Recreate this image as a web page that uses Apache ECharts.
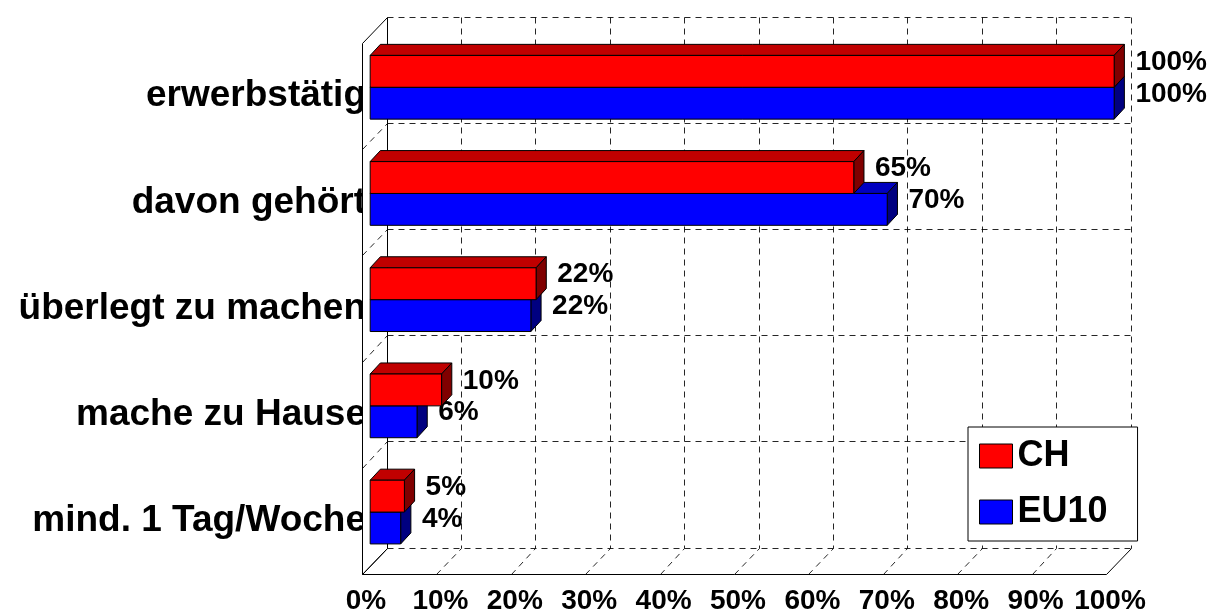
<!DOCTYPE html>
<html><head><meta charset="utf-8">
<script src="https://cdn.jsdelivr.net/npm/echarts/dist/echarts.min.js"></script>
<style>html,body{margin:0;padding:0;background:#fff}#c{width:1210px;height:615px}</style>
</head><body><div id="c"></div>
<script>
const categories = ['erwerbstätig', 'davon gehört', 'überlegt zu machen', 'mache zu Hause', 'mind. 1 Tag/Woche'];
const chValues = [100, 65, 22.3, 9.6, 4.6];
const eu10Values = [100, 69.5, 21.6, 6.3, 4.1];
const xTicks = [0, 10, 20, 30, 40, 50, 60, 70, 80, 90, 100];
const seriesNames = ['CH', 'EU10'];

const FONT = '"Liberation Sans", Arial, sans-serif';
const D = [24.5, -26.5];          // full 3D depth vector
const tF = 1 / 3, tB = 0.75;      // bar front / back depth fraction
const px = v => Math.round(v) + 0.5;

function line(x1, y1, x2, y2, dashed) {
  return { type: 'line', shape: { x1: px(x1), y1: px(y1), x2: px(x2), y2: px(y2) },
    style: { stroke: '#000', lineWidth: 1, lineDash: dashed ? [6, 5] : null, opacity: dashed ? 0.85 : 1 } };
}

function frameRender(params, api) {
  const band = api.size([0, 1])[1];
  const top = api.coord([0, 0])[1] - band / 2;
  const n = categories.length;
  const bottom = top + band * n;
  const xOf = v => api.coord([v, 0])[0];
  const x0 = xOf(xTicks[0]), x1 = xOf(xTicks[xTicks.length - 1]);
  const ch = [];
  // left wall white fill (covers overflowing category labels)
  ch.push({ type: 'polygon', shape: { points: [[x0, top], [x0 + D[0], top + D[1]], [x0 + D[0], bottom + D[1]], [x0, bottom]] },
    style: { fill: '#fff' } });
  // back wall verticals
  xTicks.forEach((v, i) => {
    const x = xOf(v) + D[0];
    ch.push(line(x, top + D[1], x, bottom + D[1], i !== 0));
  });
  // back wall horizontals + left wall diagonals
  for (let k = 0; k <= n; k++) {
    const y = top + band * k;
    ch.push(line(x0 + D[0], y + D[1], x1 + D[0], y + D[1], true));
    ch.push(line(x0, y, x0 + D[0], y + D[1], k !== 0 && k !== n));
  }
  // left wall front edge
  ch.push(line(x0, top, x0, bottom, false));
  // floor diagonals
  xTicks.forEach((v, i) => {
    const x = xOf(v);
    ch.push(line(x, bottom, x + D[0], bottom + D[1], i !== 0 && i !== xTicks.length - 1));
  });
  ch.push(line(x0, bottom, x1, bottom, false));
  return { type: 'group', children: ch };
}

function barRender(front, topC, sideC, upper) {
  return function (params, api) {
    const v = api.value(0), ci = api.value(1);
    const c = api.coord([v, ci]);
    const c0 = api.coord([0, ci]);
    const band = api.size([0, 1])[1];
    const h = band * 0.3;
    const fx = D[0] * tF, fy = D[1] * tF;
    const bx = D[0] * (tB - tF), by = D[1] * (tB - tF);
    const xa = c0[0] + fx, xb = c[0] + fx;
    const yc = c[1] + fy;
    const yt = upper ? yc - h : yc;
    const yb = yt + h;
    const st = { stroke: '#000', lineWidth: 1 };
    return { type: 'group', children: [
      { type: 'polygon', shape: { points: [[xa, yt], [xb, yt], [xb + bx, yt + by], [xa + bx, yt + by]] }, style: Object.assign({ fill: topC }, st) },
      { type: 'polygon', shape: { points: [[xb, yt], [xb + bx, yt + by], [xb + bx, yb + by], [xb, yb]] }, style: Object.assign({ fill: sideC }, st) },
      { type: 'rect', shape: { x: xa, y: yt, width: xb - xa, height: h }, style: Object.assign({ fill: front }, st) },
      { type: 'text', x: xb + bx + 11, y: (yt + yb) / 2 + by + 2,
        style: { text: Math.round(v) + '%', fill: '#000', font: 'bold 28px ' + FONT, align: 'left', verticalAlign: 'middle' } }
    ] };
  };
}

const chart = echarts.init(document.getElementById('c'), null, { renderer: 'canvas' });
chart.setOption({
  animation: false,
  backgroundColor: '#fff',
  grid: { left: 362, right: 104, top: 43, bottom: 40, containLabel: false },
  xAxis: {
    type: 'value', min: 0, max: 100, interval: 10,
    axisLine: { show: false }, axisTick: { show: false }, splitLine: { show: false },
    axisLabel: { formatter: '{value}%', fontSize: 28, fontWeight: 'bold', fontFamily: FONT, color: '#000', margin: 13, padding: [0, 0, 0, 8] }
  },
  yAxis: {
    type: 'category', data: categories, inverse: true,
    axisLine: { show: false }, axisTick: { show: false }, splitLine: { show: false },
    axisLabel: { interval: 0, fontSize: 37, fontWeight: 'bold', fontFamily: FONT, color: '#000', margin: -4, align: 'right' }
  },
  legend: {
    data: seriesNames, orient: 'vertical', left: 968, top: 427,
    padding: [11, 30, 11, 11], itemGap: 20, itemWidth: 33, itemHeight: 24, icon: 'rect',
    borderColor: '#000', borderWidth: 1, backgroundColor: '#fff', borderRadius: 0,
    itemStyle: { borderColor: '#000', borderWidth: 1 },
    textStyle: { fontSize: 36, fontWeight: 'bold', fontFamily: FONT, color: '#000' }
  },
  series: [
    { type: 'custom', name: 'frame', z: 1, silent: true, clip: false, renderItem: frameRender,
      data: [[0, 0]], encode: { x: 0, y: 1 } },
    { type: 'custom', name: seriesNames[1], z: 2, clip: false, itemStyle: { color: '#0000FF' },
      renderItem: barRender('#0000FF', '#0000C0', '#000080', false),
      data: eu10Values.map((v, i) => [v, i]), encode: { x: 0, y: 1 } },
    { type: 'custom', name: seriesNames[0], z: 3, clip: false, itemStyle: { color: '#FF0000' },
      renderItem: barRender('#FF0000', '#C00000', '#800000', true),
      data: chValues.map((v, i) => [v, i]), encode: { x: 0, y: 1 } }
  ]
});
</script></body></html>
